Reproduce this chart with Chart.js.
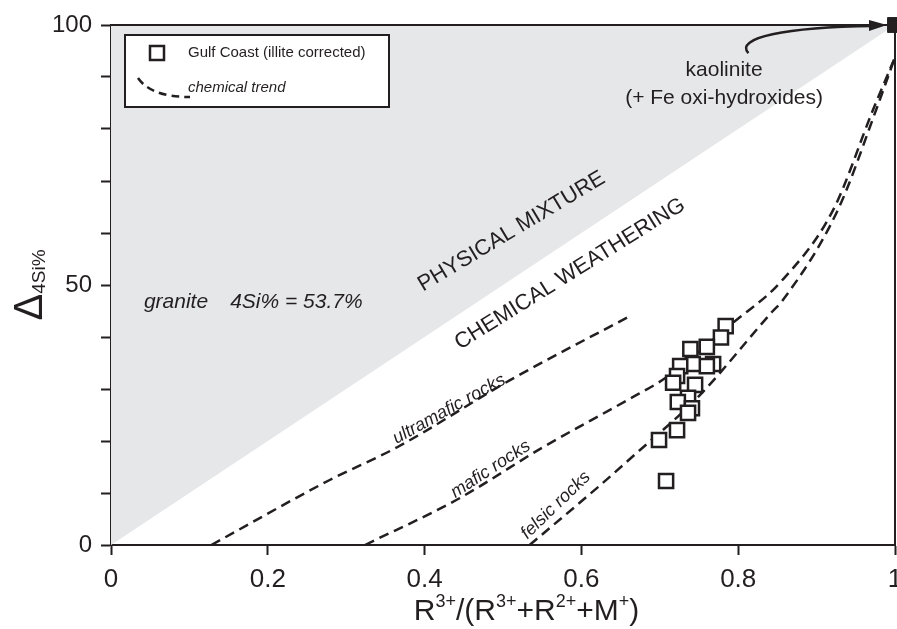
<!DOCTYPE html>
<html>
<head>
<meta charset="utf-8">
<script src="https://cdn.jsdelivr.net/npm/chart.js@4.4.0/dist/chart.umd.min.js"></script>
<style>
  html, body { margin: 0; padding: 0; background: #fff; }
</style>
</head>
<body>
<canvas id="chart" width="897" height="629"></canvas>
<script>
var ink = "#231f20";
var shade = "#e6e7e8";
var sans = '"Liberation Sans", Arial, Helvetica, sans-serif';
var narrow = '"Liberation Sans Narrow", "Liberation Sans", Arial, sans-serif';

// Gulf Coast samples (illite corrected)
var gulfX = [0.784, 0.778, 0.739, 0.760, 0.768, 0.760, 0.742, 0.726, 0.722, 0.717,
             0.745, 0.736, 0.723, 0.741, 0.736, 0.722, 0.699, 0.708];
var gulfY = [42.1, 39.9, 37.7, 38.1, 34.8, 34.4, 34.8, 34.4, 32.5, 31.2,
             30.8, 28.3, 27.5, 26.3, 25.4, 22.1, 20.2, 12.3];

// kaolinite end member
var kaoliniteX = [1];
var kaoliniteY = [100];

// physical mixture line (granite -> kaolinite)
var mixingX = [0, 1];
var mixingY = [0, 100];

// chemical trends
var ultramaficX = [0.128, 0.279, 0.365, 0.509, 0.659];
var ultramaficY = [0, 12.5, 18.8, 31.7, 43.8];
var maficX = [0.324, 0.441, 0.551, 0.659, 0.707, 0.793, 0.853, 0.921, 0.972, 1.0];
var maficY = [0, 8.7, 18.8, 27.9, 32.1, 42.7, 50.4, 64.4, 83.7, 93.8];
var felsicX = [0.534, 0.624, 0.66, 0.749, 0.843, 0.857, 0.927, 0.976, 1.0];
var felsicY = [0, 11.5, 16.3, 28.5, 44.8, 47.1, 64.4, 83.7, 93.8];

var xTicks = [0, 0.2, 0.4, 0.6, 0.8, 1];
var yTickLabels = [0, 50, 100];

function pts(xs, ys) {
    return xs.map(function (x, i) { return { x: x, y: ys[i] }; });
}

function trend(xs, ys) {
    return {
        type: "line",
        data: pts(xs, ys),
        borderColor: ink,
        borderWidth: 2.5,
        borderDash: [10, 6],
        pointRadius: 0,
        fill: false,
        cubicInterpolationMode: "monotone"
    };
}

function rotText(ctx, txt, x, y, deg, font) {
    ctx.save();
    ctx.translate(x, y);
    ctx.rotate(-deg * Math.PI / 180);
    ctx.font = font;
    ctx.textAlign = "left";
    ctx.textBaseline = "alphabetic";
    ctx.fillText(txt, 0, 0);
    ctx.restore();
}

var extras = {
    id: "extras",
    afterDatasetsDraw: function (chart) {
        var ctx = chart.ctx, a = chart.chartArea;
        var xs = chart.scales.x, ys = chart.scales.y;
        function X(v) { return xs.getPixelForValue(v); }
        function Y(v) { return ys.getPixelForValue(v); }

        ctx.save();
        ctx.fillStyle = ink;
        ctx.strokeStyle = ink;

        // top and right frame
        ctx.lineWidth = 2;
        ctx.beginPath();
        ctx.moveTo(a.left, a.top);
        ctx.lineTo(a.right, a.top);
        ctx.lineTo(a.right, a.bottom);
        ctx.stroke();

        // legend box
        var lx = a.left + 14, ly = a.top + 10;
        ctx.fillStyle = "#fff";
        ctx.fillRect(lx, ly, 264, 72);
        ctx.lineWidth = 2;
        ctx.strokeRect(lx, ly, 264, 72);
        ctx.lineWidth = 2.5;
        ctx.strokeRect(lx + 25, ly + 11, 14, 14);
        ctx.save();
        ctx.setLineDash([8, 5]);
        ctx.beginPath();
        ctx.moveTo(lx + 13, ly + 43);
        ctx.quadraticCurveTo(lx + 26, ly + 62, lx + 65, ly + 62);
        ctx.stroke();
        ctx.restore();
        ctx.fillStyle = ink;
        ctx.textBaseline = "middle";
        ctx.textAlign = "left";
        ctx.font = "15px " + sans;
        ctx.fillText("Gulf Coast (illite corrected)", lx + 63, ly + 18);
        ctx.font = "italic 15px " + sans;
        ctx.fillText("chemical trend", lx + 63, ly + 53);

        // granite label
        ctx.font = "italic 21px " + sans;
        ctx.fillText("granite", X(0.042), Y(46.7));
        ctx.fillText("4Si% = 53.7%", X(0.152), Y(46.7));

        // field labels
        rotText(ctx, "PHYSICAL MIXTURE", X(0.398), Y(48.7), 31, "22px " + sans);
        rotText(ctx, "CHEMICAL WEATHERING", X(0.445), Y(37.5), 32, "22px " + sans);
        rotText(ctx, "ultramafic rocks", X(0.364), Y(19.4), 29, "italic 18px " + sans);
        rotText(ctx, "mafic rocks", X(0.439), Y(9.0), 33, "italic 18px " + sans);
        rotText(ctx, "felsic rocks", X(0.531), Y(1.0), 44, "italic 18px " + sans);

        // kaolinite label
        ctx.textAlign = "center";
        ctx.textBaseline = "middle";
        ctx.font = "21px " + sans;
        ctx.fillText("kaolinite", X(0.782), Y(91.3));
        ctx.fillText("(+ Fe oxi-hydroxides)", X(0.782), Y(86));

        // arrow to kaolinite
        var tipX = X(1) - 8, tipY = Y(100);
        ctx.lineWidth = 2.5;
        ctx.beginPath();
        ctx.moveTo(X(0.813), Y(94.6));
        ctx.bezierCurveTo(X(0.795), Y(97.5), X(0.86), Y(99.6), tipX - 14, tipY + 1);
        ctx.stroke();
        ctx.beginPath();
        ctx.moveTo(tipX, tipY);
        ctx.lineTo(tipX - 18, tipY - 5);
        ctx.lineTo(tipX - 18, tipY + 6);
        ctx.closePath();
        ctx.fill();

        // x axis title with superscripts
        var parts = [["R", 0], ["3+", 1], ["/(R", 0], ["3+", 1], ["+R", 0], ["2+", 1], ["+M", 0], ["+", 1], [")", 0]];
        var big = "30px " + narrow, small = "18px " + narrow;
        var total = 0;
        parts.forEach(function (p) { ctx.font = p[1] ? small : big; total += ctx.measureText(p[0]).width; });
        var cx = X(0.53) - total / 2, by = 620;
        ctx.textAlign = "left";
        ctx.textBaseline = "alphabetic";
        parts.forEach(function (p) {
            ctx.font = p[1] ? small : big;
            ctx.fillText(p[0], cx, p[1] ? by - 13 : by);
            cx += ctx.measureText(p[0]).width;
        });

        // y axis title: delta with subscript, centred on the axis
        ctx.save();
        ctx.font = "40px " + sans;
        var dw = ctx.measureText("\u0394").width;
        ctx.font = "19px " + sans;
        var sw = ctx.measureText("4Si%").width;
        ctx.translate(42, Y(50) + (dw + sw) / 2);
        ctx.rotate(-Math.PI / 2);
        ctx.font = "40px " + sans;
        ctx.fillText("\u0394", 0, 0);
        ctx.font = "19px " + sans;
        ctx.fillText("4Si%", dw, 3);
        ctx.restore();

        ctx.restore();
    }
};

new Chart(document.getElementById("chart"), {
    type: "line",
    data: {
        datasets: [
            {
                type: "line",
                label: "kaolinite",
                data: pts(kaoliniteX, kaoliniteY),
                showLine: false,
                pointStyle: "rect",
                pointRadius: 10.5,
                pointBackgroundColor: ink,
                pointBorderColor: ink,
                pointBorderWidth: 1,
                clip: false
            },
            {
                type: "line",
                label: "Gulf Coast (illite corrected)",
                data: pts(gulfX, gulfY),
                showLine: false,
                pointStyle: "rect",
                pointRadius: 10,
                pointBackgroundColor: "#fff",
                pointBorderColor: ink,
                pointBorderWidth: 2.5
            },
            trend(ultramaficX, ultramaficY),
            trend(maficX, maficY),
            trend(felsicX, felsicY),
            {
                type: "line",
                label: "physical mixture",
                data: pts(mixingX, mixingY),
                borderWidth: 0,
                borderColor: shade,
                backgroundColor: shade,
                pointRadius: 0,
                fill: "end",
                tension: 0
            }
        ]
    },
    options: {
        responsive: false,
        animation: false,
        layout: { autoPadding: false, padding: { top: 25, right: 2, left: 0, bottom: 0 } },
        plugins: { legend: { display: false }, tooltip: { enabled: false } },
        scales: {
            x: {
                type: "linear",
                min: 0,
                max: 1,
                afterBuildTicks: function (s) {
                    s.ticks = xTicks.map(function (v) { return { value: v }; });
                },
                ticks: {
                    autoSkip: false,
                    maxRotation: 0,
                    padding: 9,
                    color: ink,
                    font: { family: narrow, size: 26 },
                    callback: function (v) { return (v === 0 || v === 1) ? String(v) : v.toFixed(1); }
                },
                grid: { drawOnChartArea: false, drawTicks: true, tickLength: 10, tickColor: ink, tickWidth: 2 },
                border: { color: ink, width: 2 },
                afterFit: function (s) { s.height = 84; s.paddingLeft = 0; s.paddingRight = 0; }
            },
            y: {
                min: 0,
                max: 100,
                ticks: {
                    stepSize: 10,
                    padding: 9,
                    color: ink,
                    font: { family: sans, size: 24 },
                    callback: function (v) { return yTickLabels.indexOf(v) >= 0 ? String(v) : ""; }
                },
                grid: { drawOnChartArea: false, drawTicks: true, tickLength: 10, tickColor: ink, tickWidth: 2 },
                border: { color: ink, width: 2 },
                afterFit: function (s) { s.width = 111; s.paddingTop = 0; s.paddingBottom = 0; }
            }
        }
    },
    plugins: [extras]
});
</script>
</body>
</html>
